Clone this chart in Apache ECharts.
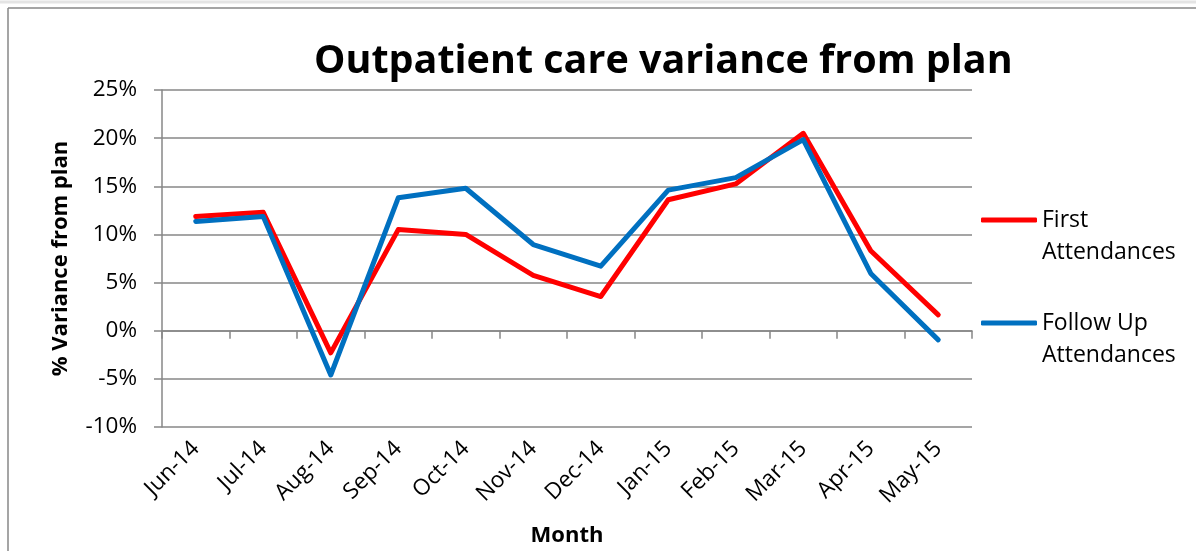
<!DOCTYPE html>
<html>
<head>
<meta charset="utf-8">
<title>Outpatient care variance from plan</title>
<script src="https://cdn.jsdelivr.net/npm/echarts@6/dist/echarts.min.js"></script>
<style>
  html, body { margin: 0; padding: 0; background: #fff; }
  #chart { width: 1196px; height: 551px; }
</style>
</head>
<body>
<div id="chart"></div>
<script>
// months on the category axis
const months = ['Jun-14', 'Jul-14', 'Aug-14', 'Sep-14', 'Oct-14', 'Nov-14',
  'Dec-14', 'Jan-15', 'Feb-15', 'Mar-15', 'Apr-15', 'May-15'];
// % variance from plan
const firstAttendances = [11.85, 12.3, -2.3, 10.5, 10.0, 5.75, 3.55, 13.6, 15.25, 20.5, 8.3, 1.65];
const followUpAttendances = [11.35, 11.85, -4.6, 13.8, 14.8, 8.95, 6.7, 14.6, 15.9, 19.85, 5.95, -0.95];
// y axis range / step (percent)
const yMin = -10;
const yMax = 25;
const yStep = 5;

const gray = '#878787';
const font = '"Open Sans", "DejaVu Sans", sans-serif';

const chart = echarts.init(document.getElementById('chart'));

chart.setOption({
  animation: false,
  backgroundColor: '#fff',
  textStyle: { fontFamily: font },
  title: {
    text: 'Outpatient care variance from plan',
    left: 314,
    top: 42,
    padding: 0,
    textStyle: { fontSize: 39.5, fontWeight: 'bold', color: '#000', fontFamily: font }
  },
  legend: {
    orient: 'vertical',
    left: 981,
    top: 172,
    padding: 0,
    itemGap: 7,
    itemWidth: 56,
    itemHeight: 5,
    icon: 'roundRect',
    data: ['First Attendances', 'Follow Up Attendances'],
    // blank first line keeps the line icon level with the first row of text
    formatter: name => name === 'First Attendances'
      ? '\nFirst\nAttendances'
      : '\nFollow Up\nAttendances',
    textStyle: { fontSize: 23, color: '#000', lineHeight: 32, fontFamily: font }
  },
  graphic: [
    { type: 'line', shape: { x1: 0, y1: 2, x2: 1196, y2: 2 }, style: { stroke: '#e4e4e4', lineWidth: 3 } },
    { type: 'line', shape: { x1: 8, y1: 8, x2: 1196, y2: 8 }, style: { stroke: gray, lineWidth: 1.5 } },
    { type: 'line', shape: { x1: 8, y1: 8, x2: 8, y2: 551 }, style: { stroke: gray, lineWidth: 1.5 } }
  ],
  grid: {
    left: 162,
    right: 224,
    top: 90,
    bottom: 124,
    containLabel: false,
    outerBoundsMode: 'none'
  },
  xAxis: [
    {
      type: 'category',
      data: months,
      position: 'bottom',
      boundaryGap: true,
      axisLine: { show: false, onZero: false },
      axisTick: { show: false },
      axisLabel: { rotate: 45, fontSize: 22.5, color: '#000', margin: 18, interval: 0 },
      name: 'Month',
      nameLocation: 'middle',
      nameGap: 98,
      nameTextStyle: { fontSize: 22, fontWeight: 'bold', color: '#000' }
    },
    {
      // the axis line itself sits on 0%
      type: 'category',
      data: months,
      position: 'top',
      boundaryGap: true,
      axisLine: { show: true, onZero: true, lineStyle: { color: gray, width: 1.5 } },
      axisTick: { show: true, inside: true, length: 8, lineStyle: { color: gray, width: 1.5 } },
      axisLabel: { show: false }
    }
  ],
  yAxis: {
    type: 'value',
    min: yMin,
    max: yMax,
    interval: yStep,
    axisLine: { show: true, lineStyle: { color: gray, width: 1.5 } },
    axisTick: { show: true, length: 8, lineStyle: { color: gray, width: 1.5 } },
    splitLine: { show: true, lineStyle: { color: gray, width: 1.5 } },
    axisLabel: { formatter: '{value}%', fontSize: 22.5, color: '#000', margin: 25 },
    name: '% Variance from plan',
    nameLocation: 'middle',
    nameGap: 90,
    nameTextStyle: { fontSize: 22, fontWeight: 'bold', color: '#000' }
  },
  series: [
    {
      name: 'First Attendances',
      type: 'line',
      data: firstAttendances,
      symbol: 'none',
      color: '#ff0000',
      lineStyle: { width: 5, color: '#ff0000', cap: 'round', join: 'round' }
    },
    {
      name: 'Follow Up Attendances',
      type: 'line',
      data: followUpAttendances,
      symbol: 'none',
      color: '#0070c0',
      lineStyle: { width: 5, color: '#0070c0', cap: 'round', join: 'round' }
    }
  ]
});
</script>
</body>
</html>
